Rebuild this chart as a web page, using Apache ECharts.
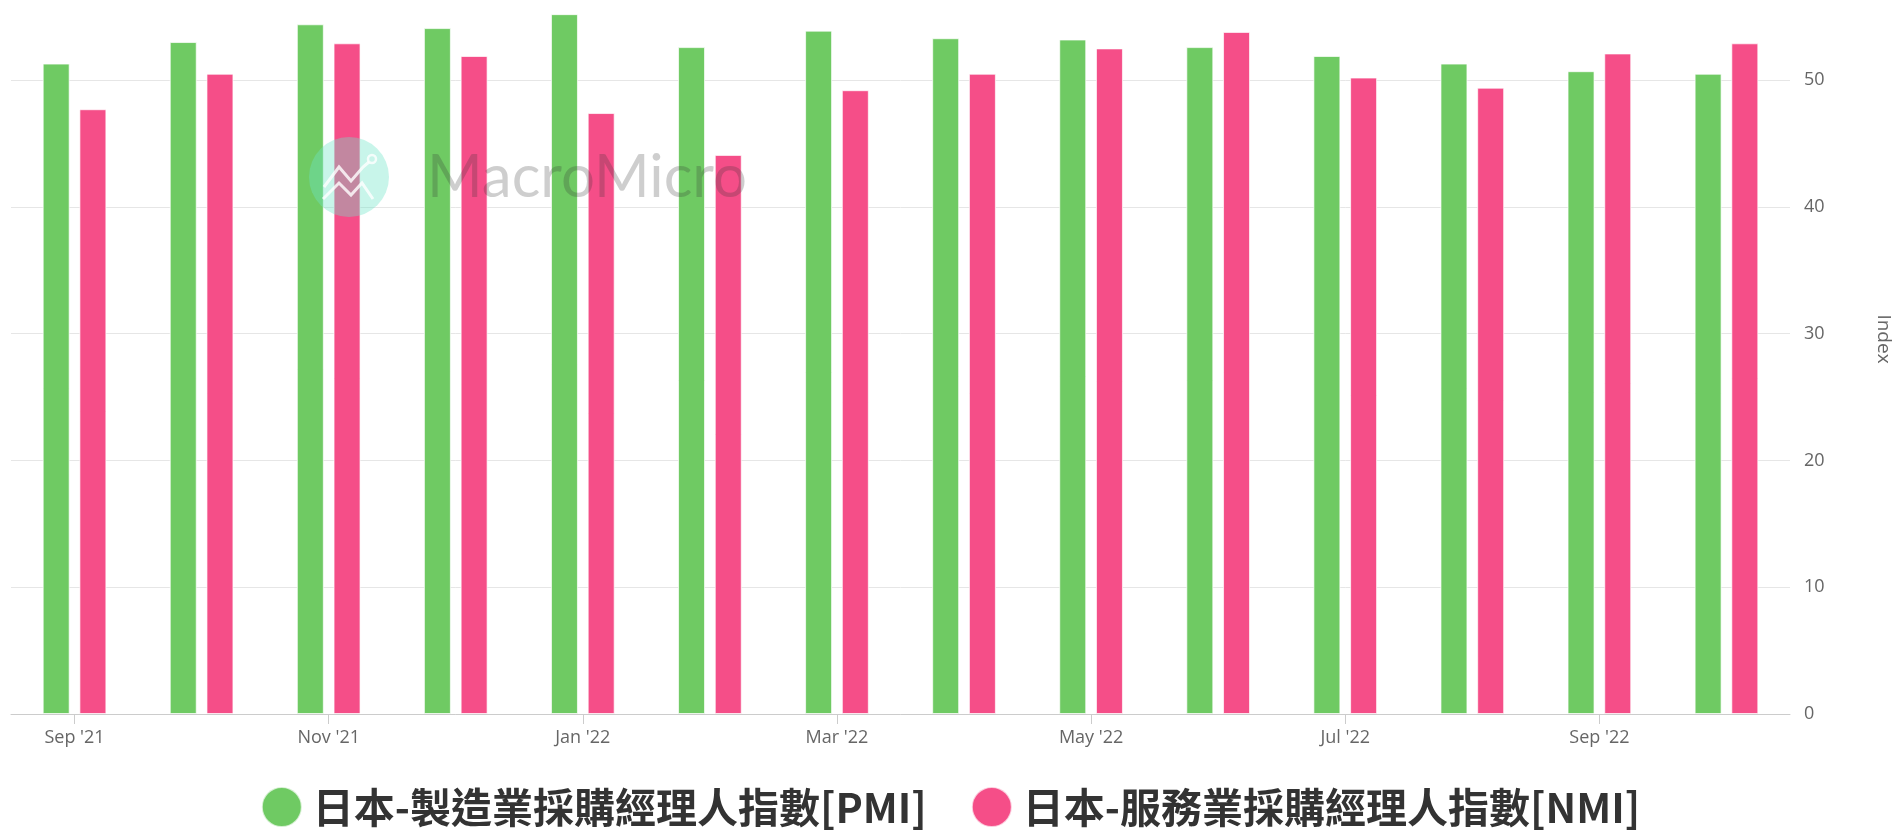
<!DOCTYPE html>
<html>
<head>
<meta charset="utf-8">
<title>日本 PMI / NMI</title>
<script src="https://cdn.jsdelivr.net/npm/echarts@6/dist/echarts.min.js"></script>
<style>
  html, body { margin: 0; padding: 0; background: #ffffff; }
  #chart { width: 1901px; height: 839px; }
</style>
</head>
<body>
<div id="chart"></div>
<script>
// Monthly readings, Sep 2021 – Oct 2022
const months = ["Sep '21", "Oct '21", "Nov '21", "Dec '21", "Jan '22", "Feb '22", "Mar '22",
                "Apr '22", "May '22", "Jun '22", "Jul '22", "Aug '22", "Sep '22", "Oct '22"];
const pmiName = '日本-製造業採購經理人指數[PMI]';
const nmiName = '日本-服務業採購經理人指數[NMI]';
const pmiValues = [51.3, 53.0, 54.4, 54.1, 55.2, 52.6, 53.9, 53.3, 53.2, 52.6, 51.9, 51.3, 50.7, 50.5];
const nmiValues = [47.7, 50.5, 52.9, 51.9, 47.4, 44.1, 49.2, 50.5, 52.5, 53.8, 50.2, 49.4, 52.1, 52.9];
const yTicks = [0, 10, 20, 30, 40, 50];

const GREEN = '#6fca63';
const PINK = '#f54e88';
const LABEL_FONT = '"Open Sans", "Noto Sans", sans-serif';

const chart = echarts.init(document.getElementById('chart'), null, { renderer: 'canvas' });

// watermark pieces sit above the bars
const WM_Z = 100;

chart.setOption({
  backgroundColor: '#ffffff',
  animation: false,
  color: [GREEN, PINK],
  grid: { left: 11, right: 105, top: 4, bottom: 125, containLabel: false },
  legend: {
    bottom: 6,
    left: 'center',
    icon: 'circle',
    itemWidth: 40,
    itemHeight: 40,
    itemGap: 44,
    data: [pmiName, nmiName],
    textStyle: {
      fontFamily: '"Noto Sans CJK TC", "Noto Sans CJK SC", sans-serif',
      fontWeight: 'bold',
      fontSize: 41,
      color: '#333333',
      padding: [0, 0, 0, 6]
    }
  },
  xAxis: {
    type: 'category',
    data: months,
    boundaryGap: true,
    axisLine: { show: true, lineStyle: { color: '#cccccc', width: 1 } },
    axisTick: { show: true, alignWithLabel: true, interval: 1, length: 10, lineStyle: { color: '#cccccc' } },
    axisLabel: {
      interval: 1,
      margin: 15,
      color: '#666666',
      fontSize: 18,
      fontFamily: LABEL_FONT
    },
    splitLine: { show: false }
  },
  yAxis: {
    type: 'value',
    position: 'right',
    min: 0,
    max: 56,
    interval: 10,
    name: 'Index',
    nameLocation: 'middle',
    nameRotate: -90,
    nameGap: 84,
    nameTextStyle: { color: '#666666', fontSize: 19, fontFamily: LABEL_FONT, padding: [0, 40, 0, 0] },
    axisLine: { show: false },
    axisTick: { show: false },
    axisLabel: {
      margin: 14,
      color: '#666666',
      fontSize: 18,
      fontFamily: LABEL_FONT,
      showMaxLabel: false,
      formatter: function (v) { return yTicks.indexOf(v) >= 0 ? String(v) : ''; }
    },
    splitLine: { show: true, showMaxLine: false, lineStyle: { color: '#e6e6e6', width: 1 } }
  },
  series: [
    {
      name: pmiName,
      type: 'bar',
      data: pmiValues,
      barWidth: 27,
      barGap: '36%',
      itemStyle: { color: GREEN, borderColor: 'rgba(255,255,255,0.7)', borderWidth: 1 }
    },
    {
      name: nmiName,
      type: 'bar',
      data: nmiValues,
      barWidth: 27,
      barGap: '36%',
      itemStyle: { color: PINK, borderColor: 'rgba(255,255,255,0.7)', borderWidth: 1 }
    }
  ],
  // MacroMicro watermark over the plot
  graphic: [
    {
      type: 'group',
      left: 309,
      top: 137,
      z: WM_Z,
      silent: true,
      children: [
        { type: 'circle', z: WM_Z, shape: { cx: 40, cy: 40, r: 40 }, style: { fill: 'rgba(110,228,200,0.38)' } },
        {
          type: 'polyline', z: WM_Z + 1,
          shape: { points: [[15, 50], [30, 30], [42, 44], [54, 30], [60, 25]] },
          style: { stroke: 'rgba(255,255,255,0.8)', lineWidth: 3, fill: null }
        },
        {
          type: 'polyline', z: WM_Z + 1,
          shape: { points: [[14, 62], [30, 46], [42, 58], [53, 46], [64, 62]] },
          style: { stroke: 'rgba(255,255,255,0.8)', lineWidth: 3, fill: null }
        },
        { type: 'circle', z: WM_Z + 1, shape: { cx: 63, cy: 22, r: 4 }, style: { fill: null, stroke: 'rgba(255,255,255,0.8)', lineWidth: 2.5 } },
        {
          type: 'text', z: WM_Z,
          x: 118,
          y: 41,
          style: {
            text: 'MacroMicro',
            font: 'normal 60px Lato, "Noto Sans", sans-serif',
            fill: 'rgba(50,50,50,0.24)',
            textVerticalAlign: 'middle'
          }
        }
      ]
    }
  ]
});
</script>
</body>
</html>
